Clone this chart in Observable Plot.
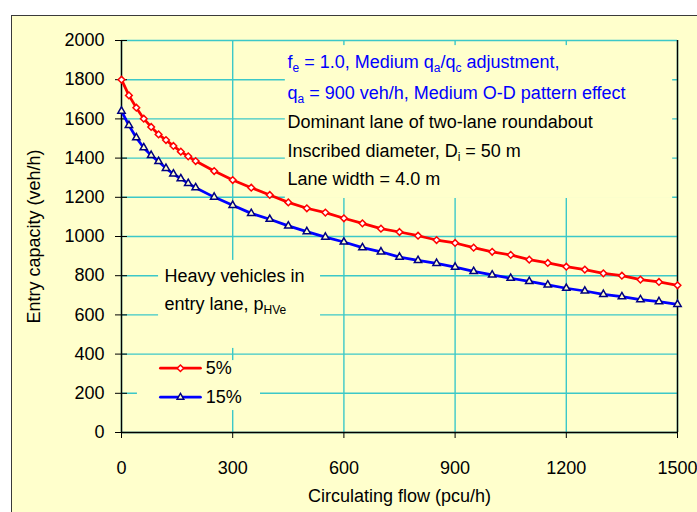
<!DOCTYPE html>
<html>
<head>
<meta charset="utf-8">
<script src="https://cdn.jsdelivr.net/npm/d3@7"></script>
<script src="https://cdn.jsdelivr.net/npm/@observablehq/plot@0.6"></script>
<style>
html, body { margin: 0; padding: 0; background: #ffffff; }
#chart { position: relative; width: 697px; height: 512px; overflow: hidden; background: #ffffff; }
#panel { position: absolute; left: 11px; top: 15px; width: 700px; height: 520px; background: #FFFFCC; border: 1px solid #3a3a3a; }
#chart svg { position: absolute; left: 0; top: 0; }
</style>
</head>
<body>
<div id="chart"><div id="panel"></div></div>
<script>
// ---- data ----
const flow = [0, 20, 40, 60, 80, 100, 120, 140, 160, 180, 200,
  250, 300, 350, 400, 450, 500, 550, 600, 650, 700, 750, 800, 850, 900,
  950, 1000, 1050, 1100, 1150, 1200, 1250, 1300, 1350, 1400, 1450, 1500];
const cap5 = [1800, 1720, 1657, 1601, 1559, 1521, 1492, 1462, 1433, 1409, 1385,
  1334, 1288, 1249, 1212, 1174, 1144, 1122, 1093, 1067, 1040, 1023, 1004, 982, 967,
  943, 922, 906, 882, 865, 846, 831, 812, 800, 780, 768, 751];
const cap15 = [1640, 1567, 1504, 1453, 1414, 1383, 1348, 1319, 1295, 1271, 1249,
  1201, 1159, 1118, 1088, 1054, 1025, 997, 972, 943, 922, 895, 878, 863, 844,
  822, 804, 787, 771, 753, 736, 722, 705, 693, 678, 668, 654];
const series = ["5%", "15%"];
const xTicks = [0, 300, 600, 900, 1200, 1500];
const yTicks = [0, 200, 400, 600, 800, 1000, 1200, 1400, 1600, 1800, 2000];
const xLabel = "Circulating flow (pcu/h)";
const yLabel = "Entry capacity (veh/h)";
const notesBlue = ["f_{e} = 1.0, Medium q_{a}/q_{c} adjustment,",
  "q_{a} = 900 veh/h, Medium O-D pattern effect"];
const notesBlack = ["Dominant lane of two-lane roundabout",
  "Inscribed diameter, D_{i} = 50 m",
  "Lane width = 4.0 m"];
const legendTitle = ["Heavy vehicles in", "entry lane, p_{HVe}"];

// ---- build tables ----
const rows5 = flow.map((x, i) => ({x, y: cap5[i], s: series[0]}));
const rows15 = flow.map((x, i) => ({x, y: cap15[i], s: series[1]}));

const legendY = [328, 180];
const legendRows = series.map((s, i) => ({s, y: legendY[i]}));
const legendLine = legendRows.flatMap(d => [{s: d.s, x: 105, y: d.y}, {s: d.s, x: 213, y: d.y}]);

const bg = "#FFFFCC";
const grid = "#3CC8C8";
const fmt = d3.format("d");
const covers = [
  {x1: 442, x2: 1487, y1: 1194, y2: 1974},
  {x1: 100, x2: 537, y1: 429, y2: 878},
  {x1: 43, x2: 375, y1: 112, y2: 367}
];

const chart = Plot.plot({
  width: 697,
  height: 512,
  marginLeft: 121,
  marginRight: 20,
  marginTop: 40,
  marginBottom: 80,
  x: {domain: [0, 1500]},
  y: {domain: [0, 2000]},
  style: {background: "transparent", fontFamily: "'Liberation Sans', Arial, sans-serif", fontSize: "18px", color: "#000", overflow: "visible"},
  marks: [
    Plot.gridY(yTicks, {stroke: grid, strokeOpacity: 1, strokeWidth: 1.4}),
    Plot.gridX(xTicks, {stroke: grid, strokeOpacity: 1, strokeWidth: 1.4}),
    Plot.rect(covers, {x1: "x1", x2: "x2", y1: "y1", y2: "y2", fill: bg}),
    Plot.ruleX([0, 1500], {stroke: "#000", strokeWidth: 1.4}),
    Plot.ruleY([0], {stroke: "#000", strokeWidth: 1.4}),
    Plot.axisY({ticks: yTicks, tickSize: 12, dx: 6, fill: "none", label: null, stroke: "#000"}),
    Plot.axisY({ticks: yTicks, tickSize: 0, tickPadding: 17, tickFormat: fmt, label: null, fill: "#000", fontSize: 18}),
    Plot.axisX({ticks: xTicks, tickSize: 6, tickPadding: 23, tickFormat: fmt, label: null, stroke: "#000", fill: "#000", fontSize: 18}),
    Plot.text([xLabel], {frameAnchor: "bottom", dy: 64, text: d => d, textAnchor: "middle", lineAnchor: "middle", fill: "#000", fontSize: 18}),
    Plot.text([yLabel], {frameAnchor: "left", dx: -87, rotate: -90, text: d => d, textAnchor: "middle", lineAnchor: "middle", fill: "#000", fontSize: 18}),
    Plot.line(rows5, {x: "x", y: "y", stroke: "#FF0000", strokeWidth: 2.75}),
    Plot.dot(rows5, {x: "x", y: "y", symbol: "diamond2", r: 3, stroke: "#FF0000", fill: "#FFFFFF", strokeWidth: 1.5}),
    Plot.line(rows15, {x: "x", y: "y", stroke: "#0000FF", strokeWidth: 2.75}),
    Plot.dot(rows15, {x: "x", y: "y", symbol: "triangle2", r: 3.5, stroke: "#000080", fill: bg, strokeWidth: 1.5}),
    Plot.text(notesBlue, {x: () => 448, y: (d, i) => [1887, 1731][i], text: d => d, textAnchor: "start", lineAnchor: "middle", fill: "#0000FF", fontSize: 18}),
    Plot.text(notesBlack, {x: () => 448, y: (d, i) => [1583, 1433, 1290][i], text: d => d, textAnchor: "start", lineAnchor: "middle", fill: "#000", fontSize: 18}),
    Plot.text(legendTitle, {x: () => 116, y: (d, i) => [796, 652][i], text: d => d, textAnchor: "start", lineAnchor: "middle", fill: "#000", fontSize: 18}),
    Plot.line(legendLine, {x: "x", y: "y", z: "s", stroke: d => d.s === series[0] ? "#FF0000" : "#0000FF", strokeWidth: 2.75}),
    Plot.dot(legendRows, {x: () => 159, y: "y", symbol: d => d.s === series[0] ? "diamond2" : "triangle2", r: d => d.s === series[0] ? 3 : 3.5, stroke: d => d.s === series[0] ? "#FF0000" : "#000080", fill: d => d.s === series[0] ? "#FFFFFF" : bg, strokeWidth: 1.5}),
    Plot.text(legendRows, {x: () => 227, y: "y", text: "s", textAnchor: "start", lineAnchor: "middle", fill: "#000", fontSize: 18})
  ]
});

// subscripts: turn "_{...}" into lowered smaller tspans
function applySubs(svg) {
  const NS = "http://www.w3.org/2000/svg";
  svg.querySelectorAll("text").forEach(el => {
    const targets = el.querySelector("tspan") ? Array.from(el.querySelectorAll("tspan")) : [el];
    targets.forEach(t => {
      const s = t.textContent;
      if (!s.includes("_{")) return;
      t.textContent = "";
      let shifted = false;
      s.split(/(_\{[^}]*\})/).forEach(p => {
        if (!p) return;
        const ts = document.createElementNS(NS, "tspan");
        if (p.startsWith("_{")) {
          ts.textContent = p.slice(2, -1);
          ts.setAttribute("font-size", "12");
          ts.setAttribute("dy", "4");
          shifted = true;
        } else {
          ts.textContent = p;
          if (shifted) { ts.setAttribute("dy", "-4"); shifted = false; }
        }
        t.appendChild(ts);
      });
    });
  });
}
applySubs(chart);
document.getElementById("chart").appendChild(chart);
</script>
</body>
</html>
